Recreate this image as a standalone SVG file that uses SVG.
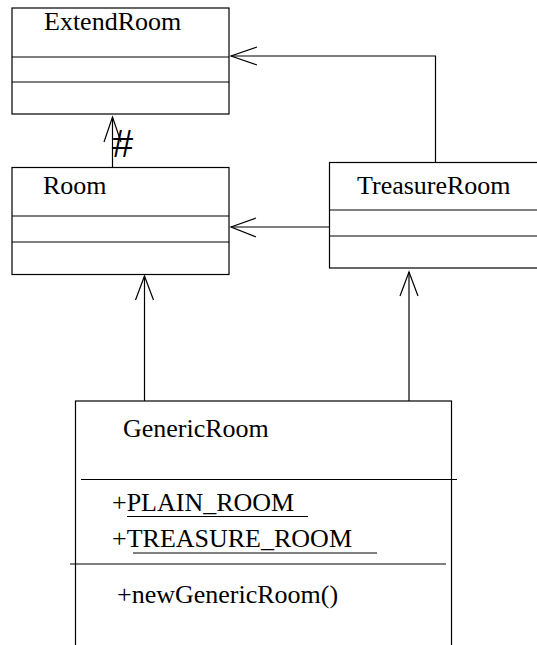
<svg xmlns="http://www.w3.org/2000/svg" width="537" height="645" viewBox="0 0 537 645">
<style>
.box{fill:#fff;stroke:#000;stroke-width:1.2}
.ln{stroke:#000;stroke-width:1.2;fill:none}
.t{font-family:"Liberation Serif","Times New Roman",serif;font-size:26px;fill:#000}
.h{font-family:"Liberation Sans",Arial,sans-serif;font-size:38px;fill:#000}
.u{stroke:#000;stroke-width:1}
</style>
<rect width="537" height="645" fill="#fff"/>
<g id="connectors">
<polyline class="ln" points="112.5,167 112.5,117"/>
<polyline class="ln" points="104,142 112.5,117 121,142"/>
<polyline class="ln" points="435.5,163 435.5,56 231,56"/>
<polyline class="ln" points="257,47 231,56 257,65"/>
<line class="ln" x1="329" y1="227" x2="231" y2="227"/>
<polyline class="ln" points="256,218 231,227 256,237"/>
<line class="ln" x1="144.5" y1="401" x2="144.5" y2="276"/>
<polyline class="ln" points="135.5,300 144.5,276 153.5,300"/>
<line class="ln" x1="409" y1="401" x2="409" y2="272"/>
<polyline class="ln" points="400,296 409,272 418,296"/>
<text class="h" x="112" y="157">#</text>
</g>
<g id="ExtendRoom">
<rect class="box" x="12" y="8" width="217" height="106"/>
<line class="ln" x1="12" y1="57" x2="229" y2="57"/>
<line class="ln" x1="12" y1="82" x2="229" y2="82"/>
<text class="t" x="44" y="30">ExtendRoom</text>
</g>
<g id="Room">
<rect class="box" x="12" y="167.5" width="217" height="107"/>
<line class="ln" x1="12" y1="216" x2="229" y2="216"/>
<line class="ln" x1="12" y1="242" x2="229" y2="242"/>
<text class="t" x="43" y="194">Room</text>
</g>
<g id="TreasureRoom">
<rect class="box" x="329.5" y="162.5" width="220" height="105.5"/>
<line class="ln" x1="329.5" y1="210" x2="540" y2="210"/>
<line class="ln" x1="329.5" y1="236" x2="540" y2="236"/>
<text class="t" x="357" y="194">TreasureRoom</text>
</g>
<g id="GenericRoom">
<rect class="box" x="75.5" y="401" width="376" height="260"/>
<line class="ln" x1="81" y1="479.5" x2="457" y2="479.5"/>
<line class="ln" x1="70" y1="564" x2="446" y2="564"/>
<text class="t" x="123" y="437">GenericRoom</text>
<text class="t" x="112" y="511">+PLAIN_ROOM</text>
<line class="u" x1="127" y1="516.5" x2="308" y2="516.5"/>
<text class="t" x="112" y="547">+TREASURE_ROOM</text>
<line class="u" x1="133" y1="553" x2="377" y2="553"/>
<text class="t" x="117" y="603">+newGenericRoom()</text>
</g>
</svg>
